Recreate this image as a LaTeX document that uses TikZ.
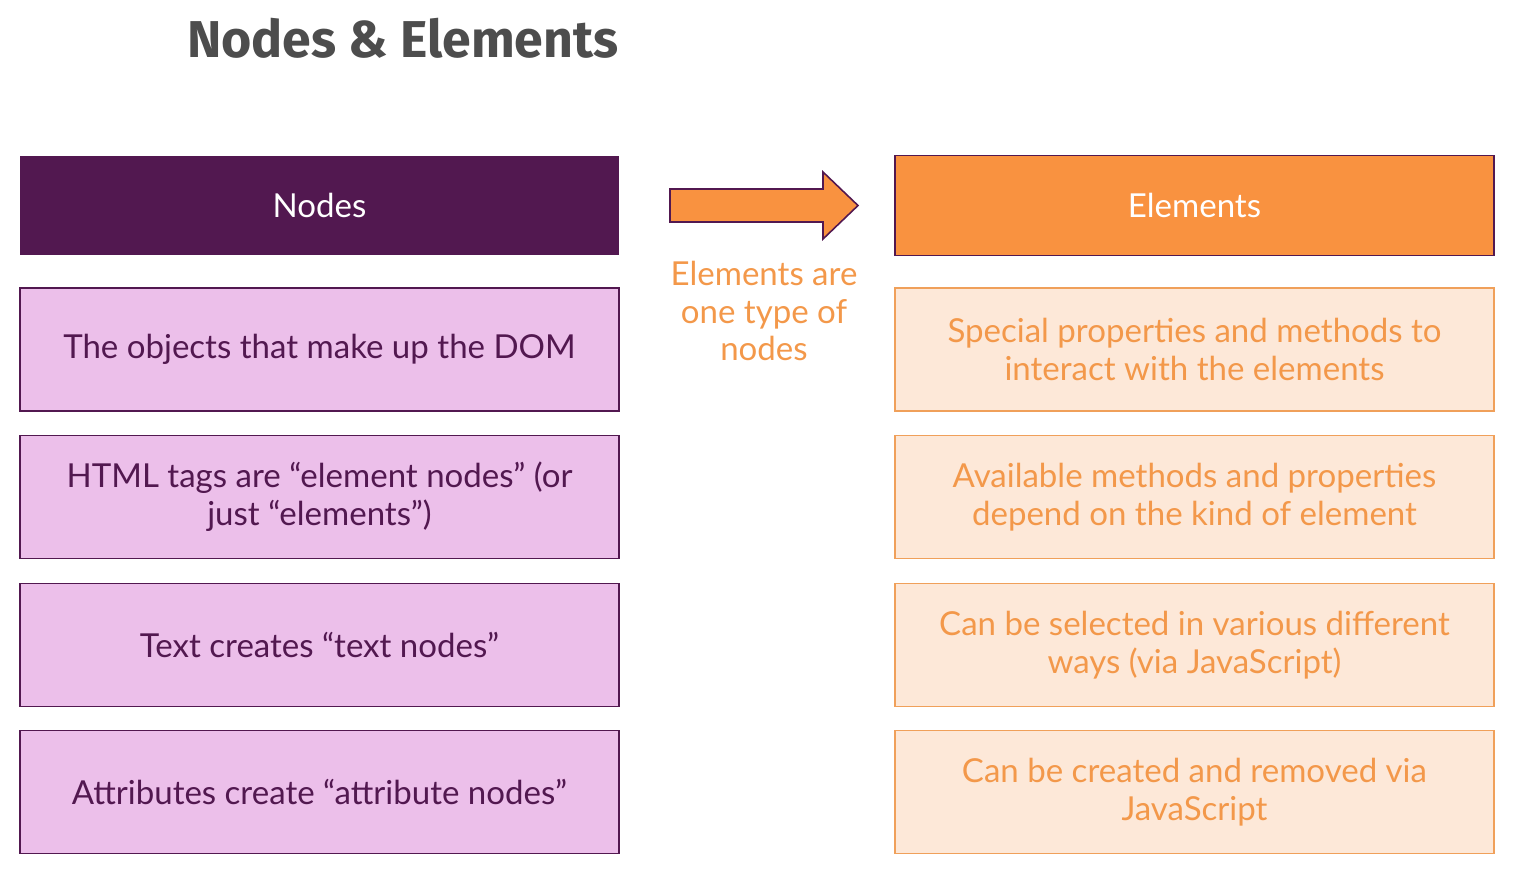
\documentclass[tikz,border=0pt]{standalone}
\usepackage{fontspec}
\setmainfont{Lato}
\newfontfamily\titlefont{Fira Sans}
\definecolor{plum}{RGB}{82,24,80}
\definecolor{lilac}{RGB}{236,191,234}
\definecolor{tangerine}{RGB}{249,146,64}
\definecolor{peach}{RGB}{253,232,216}
\definecolor{peachline}{RGB}{240,160,90}
\definecolor{peachtext}{RGB}{243,152,74}
\definecolor{slate}{RGB}{77,77,77}
\tikzset{
  colbox/.style={minimum width=11.98cm, minimum height=2.46cm, align=center,
    inner sep=0pt, line width=0.9pt, font=\fontsize{18.8}{21.5}\selectfont},
  nodehead/.style={colbox, minimum height=2cm, fill=plum, text=white},
  elemhead/.style={colbox, minimum height=2cm, fill=tangerine, draw=plum, text=white},
  nodebox/.style={colbox, fill=lilac, draw=plum, text=plum},
  elembox/.style={colbox, fill=peach, draw=peachline, text=peachtext},
}
\begin{document}
\begin{tikzpicture}[x=0.02cm, y=-0.02cm]
      \useasboundingbox (0,0) rectangle (1514,873);
      % title
      \node[anchor=west, text=slate, font=\titlefont\bfseries\fontsize{29.5}{32}\selectfont] (title) at (181,38) {Nodes \& Elements};
      % left column
      \node[nodehead] (nodes) at (319.5,205.5) {Nodes};
      \node[nodebox] (dom) at (319.5,349.5) {The objects that make up the DOM};
      \node[nodebox] (tags) at (319.5,497) {HTML tags are “element nodes” (or\\just “elements”)};
      \node[nodebox] (text) at (319.5,645) {Text creates “text nodes”};
      \node[nodebox] (attr) at (319.5,792) {Attributes create “attribute nodes”};
      % right column
      \node[elemhead] (elements) at (1194.5,205.5) {Elements};
      \node[elembox] (props) at (1194.5,349.5) {Special properties and methods to\\interact with the elements};
      \node[elembox] (avail) at (1194.5,497) {Available methods and properties\\depend on the kind of element};
      \node[elembox] (select) at (1194.5,645) {Can be selected in various different\\ways (via JavaScript)};
      \node[elembox] (create) at (1194.5,792) {Can be created and removed via\\JavaScript};
      % arrow between the columns
      \filldraw[fill=tangerine, draw=plum, line width=0.9pt, line join=miter]
        (670,189) -- (823,189) -- (823,172) -- (858,205.5) -- (823,239) -- (823,222) -- (670,222) -- cycle;
      \node[align=center, text=peachtext, font=\fontsize{18.8}{21.5}\selectfont] (isa) at (764,311) {Elements are\\one type of\\nodes};
\end{tikzpicture}
\end{document}
